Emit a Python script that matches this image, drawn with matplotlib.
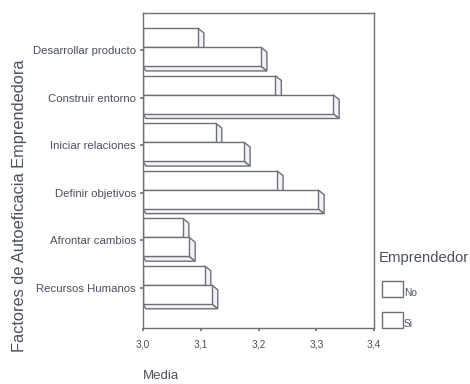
import matplotlib
matplotlib.use("Agg")
import matplotlib.pyplot as plt
from matplotlib.patches import Polygon, Rectangle

plt.rcParams['font.family'] = ['Liberation Sans', 'DejaVu Sans']

categories = ["Desarrollar producto", "Construir entorno", "Iniciar relaciones",
              "Definir objetivos", "Afrontar cambios", "Recursos Humanos"]
no_vals = [3.095, 3.229, 3.126, 3.232, 3.069, 3.107]
si_vals = [3.204, 3.329, 3.175, 3.303, 3.080, 3.119]
xticks = [3.0, 3.1, 3.2, 3.3, 3.4]
xtick_labels = ["3,0", "3,1", "3,2", "3,3", "3,4"]
legend_title = "Emprendedor"
series_names = ["No", "Si"]

EDGE = "#6d7078"
TEXT = "#4b505c"
FACE = "#ffffff"
SIDE = "#f2f3f6"

fig = plt.figure(figsize=(4.7, 3.84), dpi=100)
ax = fig.add_axes([0.304, 0.146, 0.492, 0.820])
ax.set_xlim(3.0, 3.4)
ax.set_ylim(len(categories) - 1 + 0.84, -0.78)

bar_h = 0.40
dx = 0.0105   # depth offset in data units (x)
dy = 0.10     # depth offset in data units (y, downward)


def bar3d(value, top, x0=3.0):
    bottom = top + bar_h
    # right side face
    ax.add_patch(Polygon([(value, top), (value + dx, top + dy),
                          (value + dx, bottom + dy), (value, bottom)],
                         closed=True, facecolor=SIDE, edgecolor=EDGE, lw=1.0))
    # bottom face
    ax.add_patch(Polygon([(x0, bottom), (value, bottom),
                          (value + dx, bottom + dy), (x0 + dx * 0.5, bottom + dy)],
                         closed=True, facecolor=SIDE, edgecolor=EDGE, lw=1.0))
    # front face
    ax.add_patch(Rectangle((x0, top), value - x0, bar_h,
                           facecolor=FACE, edgecolor=EDGE, lw=1.0))


for i, (nv, sv) in enumerate(zip(no_vals, si_vals)):
    bar3d(nv, i - 0.063 - bar_h)
    bar3d(sv, i - 0.063)

for s in ax.spines.values():
    s.set_color(EDGE)
    s.set_linewidth(1.0)

ax.set_xticks(xticks)
ax.set_xticklabels(xtick_labels, fontsize=7.3, color=TEXT)
ax.set_yticks(range(len(categories)))
ax.set_yticklabels(categories, fontsize=8.2, color=TEXT)
ax.tick_params(axis="both", length=2, width=1.2, color=EDGE)
ax.tick_params(axis="y", pad=3)
ax.tick_params(axis="x", pad=6)

fig.text(0.042, 0.464, "Factores de Autoeficacia Emprendedora", rotation=90,
         ha="center", va="center", fontsize=11.8, color=TEXT)
fig.text(0.343, 0.022, "Media", ha="center", va="center", fontsize=9.5, color=TEXT)

# legend
fig.text(0.806, 0.328, legend_title, ha="left", va="center", fontsize=10.7, color=TEXT)
for k, name in enumerate(series_names):
    y0 = 1 - (297 + 31 * k) / 384
    fig.add_artist(Rectangle((382 / 470, y0), 21 / 470, 16 / 384,
                             transform=fig.transFigure, facecolor=FACE,
                             edgecolor=EDGE, lw=1.0))
    fig.text(404 / 470, y0 - 0.002, name, ha="left", va="bottom",
             fontsize=7.3, color=TEXT)

fig.savefig("out.png", dpi=100)
